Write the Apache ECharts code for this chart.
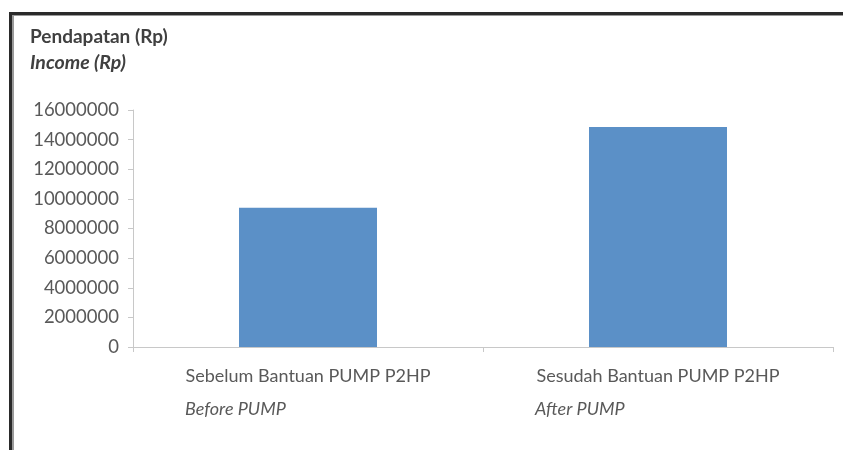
<!DOCTYPE html>
<html><head><meta charset="utf-8">
<script src="https://cdn.jsdelivr.net/npm/echarts@6/dist/echarts.min.js"></script>
<style>html,body{margin:0;padding:0;background:#fff}#c{width:843px;height:450px}</style>
</head><body><div id="c"></div>
<script>
var categories = ['Sebelum Bantuan PUMP P2HP', 'Sesudah Bantuan PUMP P2HP'];
var categoriesEn = ['Before PUMP', 'After PUMP'];
var incomeValues = [9400000, 14850000];
var yTicks = [0, 2000000, 4000000, 6000000, 8000000, 10000000, 12000000, 14000000, 16000000];
var titleLine1 = 'Pendapatan (Rp)';
var titleLine2 = 'Income (Rp)';

var FONT = 'Lato';
var chart = echarts.init(document.getElementById('c'), null, {renderer: 'canvas'});
chart.setOption({
  animation: false,
  backgroundColor: '#fff',
  title: {
    left: 25, top: 19,
    text: '{a|' + titleLine1 + '}\n{b|' + titleLine2 + '}',
    textStyle: {
      rich: {
        a: {fontFamily: FONT, fontWeight: 'bold', fontSize: 19, color: '#404040', lineHeight: 26},
        b: {fontFamily: FONT, fontStyle: 'italic', fontSize: 19.5, color: '#404040', lineHeight: 26}
      }
    }
  },
  grid: {left: 133, right: 10, top: 110, bottom: 103, containLabel: false},
  xAxis: {
    type: 'category',
    data: categories,
    axisLine: {lineStyle: {color: '#c8c8c8', width: 1}},
    axisTick: {show: true, alignWithLabel: false, length: 5, lineStyle: {color: '#c8c8c8'}},
    axisLabel: {
      margin: 13,
      interval: 0,
      formatter: function (v, i) {
        return '{a|' + v + '}\n{b|' + categoriesEn[i] + '}';
      },
      rich: {
        a: {fontFamily: FONT, fontSize: 18, color: '#595959', lineHeight: 33},
        b: {fontFamily: FONT, fontStyle: 'italic', fontSize: 18, color: '#595959', lineHeight: 33, width: 246, align: 'left'}
      }
    }
  },
  yAxis: {
    type: 'value',
    min: 0, max: 16000000, interval: 2000000,
    splitLine: {show: false},
    axisLine: {show: true, lineStyle: {color: '#c8c8c8', width: 1}},
    axisTick: {show: true, length: 5, lineStyle: {color: '#c8c8c8'}},
    axisLabel: {
      fontFamily: FONT, fontSize: 18.5, color: '#595959', margin: 14,
      formatter: function (v) { return yTicks.indexOf(v) >= 0 ? String(v) : ''; }
    }
  },
  series: [{
    type: 'bar',
    data: incomeValues,
    barWidth: 138,
    itemStyle: {color: '#5b90c7'}
  }],
  graphic: [
    {type: 'rect', shape: {x: 9, y: 12, width: 834, height: 3}, style: {fill: '#2a2a2a'}, silent: true},
    {type: 'rect', shape: {x: 12, y: 15, width: 831, height: 1}, style: {fill: '#9a9a9a'}, silent: true},
    {type: 'rect', shape: {x: 9, y: 12, width: 3, height: 438}, style: {fill: '#2a2a2a'}, silent: true},
    {type: 'rect', shape: {x: 12, y: 15, width: 2, height: 435}, style: {fill: '#9a9a9a'}, silent: true}
  ]
});
</script></body></html>
